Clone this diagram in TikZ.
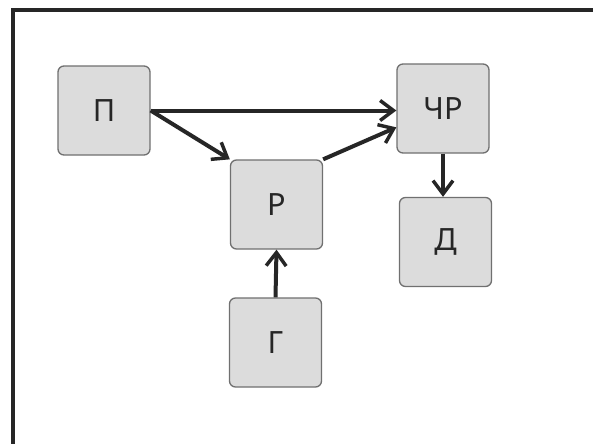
\documentclass[tikz,border=0pt]{standalone}
\usepackage{fontspec}
\setmainfont{Noto Sans}
\usetikzlibrary{arrows.meta}
\definecolor{boxfill}{HTML}{DCDCDC}
\definecolor{boxline}{HTML}{707070}
\definecolor{ink}{HTML}{262626}
\begin{document}
\begin{tikzpicture}[x=0.75pt,y=-0.75pt,
  blk/.style={draw=boxline,fill=boxfill,line width=1pt,rounded corners=4.5pt,
    minimum width=69pt,minimum height=66.75pt,inner sep=0pt,
    font=\fontsize{23}{26}\selectfont,text=ink},
  arr/.style={draw=ink,line width=3pt,-{Straight Barb[length=10pt,width=15pt,line width=2.6pt]}}]
\useasboundingbox (0,0) rectangle (593,443);
\clip (0,0) rectangle (593,443);
\fill[white] (0,0) rectangle (593,443);
\draw[ink,line width=3pt] (13,460) -- (13,9.5) -- (610,9.5);
\node[blk] (P) at (104,110.5) {П};
\node[blk] (CR) at (443,108.5) {ЧР};
\node[blk] (D) at (445.5,242) {Д};
\node[blk] (R) at (276.5,204.5) {Р};
\node[blk] (G) at (275.5,342.5) {Г};
\draw[arr] (P.east) -- (P.east -| CR.west);
\draw[arr] (P.east) -- (R.north west);
\draw[arr] (R.north east) -- (CR.202);
\draw[arr] (G.north) -- (R.south);
\draw[arr] (CR.south) -- (CR.south |- D.north);
\end{tikzpicture}
\end{document}
